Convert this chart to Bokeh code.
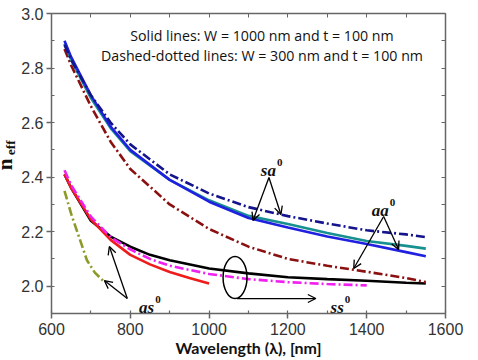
from bokeh.plotting import figure
from bokeh.models import (Range1d, LinearAxis, SingleIntervalTicker, Label, Arrow, OpenHead,
                          NumeralTickFormatter, Div)
from bokeh.layouts import row
from bokeh.embed import file_html
from bokeh.resources import INLINE

# ---- data ----
blue_x = [633, 650, 700, 750, 800, 900, 1000, 1100, 1200, 1300, 1400, 1500, 1550]
blue_y = [2.90, 2.84, 2.70, 2.585, 2.50, 2.39, 2.31, 2.25, 2.215, 2.182, 2.155, 2.125, 2.11]
teal_x = [633, 650, 700, 750, 800, 900, 1000, 1100, 1200, 1300, 1400, 1500, 1550]
teal_y = [2.89, 2.83, 2.69, 2.58, 2.495, 2.39, 2.315, 2.258, 2.228, 2.195, 2.166, 2.148, 2.138]
navy_x = [633, 650, 700, 750, 800, 900, 1000, 1100, 1200, 1300, 1400, 1500, 1550]
navy_y = [2.885, 2.83, 2.70, 2.60, 2.52, 2.41, 2.34, 2.29, 2.257, 2.23, 2.205, 2.19, 2.18]
dred_x = [633, 650, 700, 750, 800, 900, 1000, 1100, 1200, 1300, 1400, 1500, 1550]
dred_y = [2.87, 2.81, 2.66, 2.53, 2.43, 2.30, 2.21, 2.145, 2.10, 2.075, 2.053, 2.03, 2.015]
black_x = [633, 650, 700, 750, 800, 850, 900, 1000, 1100, 1200, 1300, 1400, 1500, 1550]
black_y = [2.41, 2.36, 2.24, 2.182, 2.145, 2.115, 2.095, 2.065, 2.047, 2.033, 2.026, 2.02, 2.013, 2.01]
red_x = [633, 650, 700, 750, 800, 850, 900, 950, 1000]
red_y = [2.41, 2.36, 2.245, 2.17, 2.115, 2.08, 2.052, 2.03, 2.01]
mag_x = [633, 650, 700, 750, 800, 850, 900, 1000, 1100, 1200, 1300, 1400]
mag_y = [2.425, 2.37, 2.255, 2.18, 2.135, 2.1, 2.075, 2.045, 2.026, 2.015, 2.008, 2.003]
olive_x = [633, 650, 670, 690, 710, 731]
olive_y = [2.35, 2.265, 2.18, 2.095, 2.05, 2.02]

x_ticks_interval = 200
y_ticks_interval = 0.2

LEFT_DIV = 18  # width of the div that holds the rotated y title

# pixel (page) -> data helpers for annotation placement
def px2x(px):
    return 600 + (px - 50) / 0.395

def px2y(py):
    return 3.0 - (py - 13) / 272.7

p = figure(width=478 - LEFT_DIV, height=360, output_backend="svg", toolbar_location=None,
           x_range=Range1d(600, 1600), y_range=Range1d(1.9, 3.0),
           min_border_left=50 - LEFT_DIV, min_border_right=33, min_border_top=13,
           min_border_bottom=47, margin=0)
p.grid.visible = False
p.outline_line_color = None
p.background_fill_color = "white"
p.border_fill_color = "white"

axc = "#666666"
for ax in (p.xaxis[0], p.yaxis[0]):
    ax.axis_line_color = axc
    ax.axis_line_width = 1.5
    ax.major_tick_line_color = axc
    ax.minor_tick_line_color = axc
    ax.major_tick_line_width = 1.5
    ax.minor_tick_line_width = 1.2
    ax.major_tick_out = 5
    ax.major_tick_in = 0
    ax.minor_tick_out = 0
    ax.minor_tick_in = 3
    ax.major_label_text_font = "Liberation Sans"
    ax.major_label_text_font_size = "16px"
    ax.major_label_text_color = "#333333"
    ax.major_label_standoff = 4
p.yaxis[0].major_label_standoff = 3
p.xaxis[0].ticker = SingleIntervalTicker(interval=x_ticks_interval, num_minor_ticks=2)
p.yaxis[0].ticker = SingleIntervalTicker(interval=y_ticks_interval, num_minor_ticks=2)
p.yaxis[0].formatter = NumeralTickFormatter(format="0.0")
p.xaxis[0].axis_label = "Wavelength (λ), [nm]"
p.xaxis[0].axis_label_text_font = "Lato"
p.xaxis[0].axis_label_text_font_style = "bold"
p.xaxis[0].axis_label_text_font_size = "16px"
p.xaxis[0].axis_label_text_color = "#111111"
p.xaxis[0].axis_label_standoff = 0

top = LinearAxis(ticker=SingleIntervalTicker(interval=100, num_minor_ticks=0),
                 major_label_text_font_size="1px", major_label_text_color=None,
                 major_label_standoff=0,
                 major_tick_in=4, major_tick_out=0, minor_tick_in=0, minor_tick_out=0,
                 axis_line_color=axc, axis_line_width=1.5, major_tick_line_color=axc)
right = LinearAxis(ticker=SingleIntervalTicker(interval=0.1, num_minor_ticks=0),
                   major_label_text_font_size="1px", major_label_text_color=None,
                   major_label_standoff=0,
                   major_tick_in=4, major_tick_out=0, minor_tick_in=0, minor_tick_out=0,
                   axis_line_color=axc, axis_line_width=1.5, major_tick_line_color=axc)
p.add_layout(top, "above")
p.add_layout(right, "right")

dd = "9 3 2 3"
lw = 2.6
p.line(olive_x, olive_y, line_color="#8c9a28", line_width=lw, line_dash=dd)
p.line(black_x, black_y, line_color="black", line_width=lw)
p.line(red_x, red_y, line_color="#ee1c1c", line_width=lw)
p.line(mag_x, mag_y, line_color="#f020f0", line_width=lw, line_dash=dd)
p.line(dred_x, dred_y, line_color="#8b1010", line_width=lw, line_dash=dd)
p.line(teal_x, teal_y, line_color="#17918f", line_width=lw)
p.line(blue_x, blue_y, line_color="#2020e0", line_width=lw)
p.line(navy_x, navy_y, line_color="#14148c", line_width=lw, line_dash=dd)

# header text
p.add_layout(Label(x=px2x(261), y=px2y(35), text="Solid lines: W = 1000 nm and t = 100 nm",
                   text_font="Open Sans", text_font_size="14.2px", text_align="center",
                   text_baseline="middle", text_color="#111111"))
p.add_layout(Label(x=px2x(261), y=px2y(55), text="Dashed-dotted lines: W = 300 nm and t = 100 nm",
                   text_font="Open Sans", text_font_size="14.2px", text_align="center",
                   text_baseline="middle", text_color="#111111"))

# mode labels
def mode_label(txt, right_px, base_py):
    p.add_layout(Label(x=px2x(right_px), y=px2y(base_py), text=txt, text_font="Liberation Serif",
                       text_font_style="bold italic", text_font_size="17px", text_align="right",
                       text_baseline="alphabetic", text_color="#111111"))
    p.add_layout(Label(x=px2x(right_px + 1), y=px2y(base_py - 8), text="0", text_font="Liberation Serif",
                       text_font_style="bold", text_font_size="11px", text_align="left",
                       text_baseline="alphabetic", text_color="#111111"))

mode_label("sa", 275, 170)
mode_label("aa", 388, 210)
mode_label("as", 153, 307)
mode_label("ss", 343, 307)

def arrow(x0, y0, x1, y1):
    p.add_layout(Arrow(end=OpenHead(size=8, line_width=1.3, line_color="black"),
                       x_start=px2x(x0), y_start=px2y(y0), x_end=px2x(x1), y_end=px2y(y1),
                       line_width=1.3, line_color="black"))

arrow(268, 177, 252, 220)
arrow(268, 177, 280, 214)
arrow(383, 216, 353, 268)
arrow(383, 216, 398, 249)
arrow(126, 298, 108, 246)
arrow(126, 298, 103, 280)
arrow(236, 298, 315, 298)

p.ellipse(x=[px2x(234)], y=[px2y(277)], width=24 / 0.395, height=42 / 272.7,
          fill_color=None, line_color="black", line_width=1.5)

# rotated y title with subscript, as real HTML text (two rotated spans)
span_style = ("position:absolute;white-space:nowrap;transform:rotate(-90deg);"
              "font-family:'Liberation Serif';font-weight:bold;color:#111111;")
ytitle = Div(
    text=('<div style="position:relative;width:18px;height:360px;">'
          '<span style="' + span_style + 'left:0px;top:159px;font-size:21px;line-height:11px;">n</span>'
          '<span style="' + span_style + 'left:3px;top:141px;font-size:13.5px;line-height:13.5px;">eff</span>'
          '</div>'),
    width=LEFT_DIV, height=360, margin=0)

layout = row(ytitle, p, spacing=0)
open("out.html", "w").write(file_html(layout, INLINE))
